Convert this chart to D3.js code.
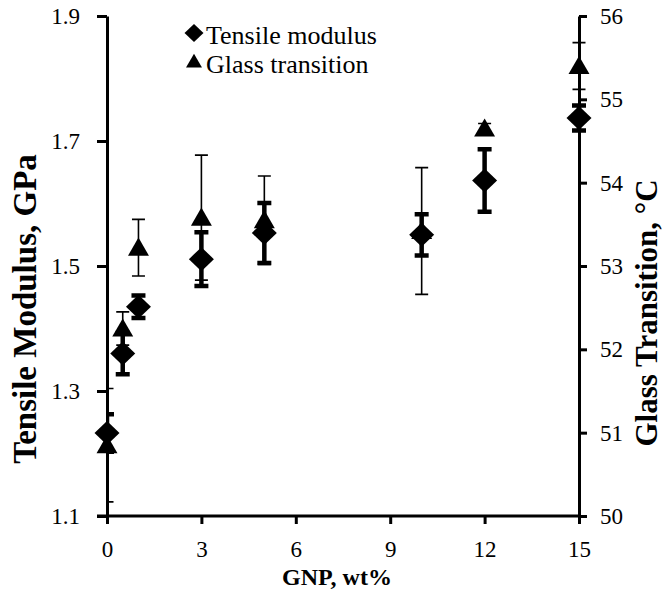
<!DOCTYPE html>
<html>
<head>
<meta charset="utf-8">
<script src="https://cdn.jsdelivr.net/npm/d3@7/dist/d3.min.js"></script>
<style>
  body { margin: 0; background: #fff; }
  svg { display: block; }
  .axis path, .axis line { stroke: #000; stroke-width: 3; }
</style>
</head>
<body>
<script>
// values
var gnp        = [0, 0.5, 1, 3, 5, 10, 12, 15];
var modulus    = [1.233, 1.36, 1.435, 1.511, 1.553, 1.55, 1.637, 1.737];
var modulusErr = [0.03, 0.033, 0.018, 0.043, 0.048, 0.033, 0.05, 0.02];
var tg         = [50.85, 52.25, 53.22, 53.58, 53.55, 53.42, 54.65, 55.4];
var tgErr      = [0.68, 0.2, 0.34, 0.75, 0.53, 0.76, 0.06, 0.28];
var xTicks = [0, 3, 6, 9, 12, 15];
var yTicks = [1.1, 1.3, 1.5, 1.7, 1.9];
var y2Ticks = [50, 51, 52, 53, 54, 55, 56];
var legendLabels = ["Tensile modulus", "Glass transition"];

var serif = "'Times New Roman', 'Liberation Serif', serif";
var margin = {top: 16, right: 87, bottom: 74, left: 107};
var W = 666, H = 590;
var width = W - margin.left - margin.right;
var height = H - margin.top - margin.bottom;

var svg = d3.select("body").append("svg")
    .attr("width", W)
    .attr("height", H);

var g = svg.append("g")
    .attr("transform", "translate(" + margin.left + "," + margin.top + ")");

var x = d3.scaleLinear().domain([0, 15]).range([0, width]);
var y = d3.scaleLinear().domain([1.1, 1.9]).range([height, 0]);
var y2 = d3.scaleLinear().domain([50, 56]).range([height, 0]);

g.append("clipPath").attr("id", "clip")
  .append("rect").attr("x", 0).attr("y", -10).attr("width", width + 20).attr("height", height + 20);

var pts = gnp.map(function(d, i) {
  return {x: d, m: modulus[i], me: modulusErr[i], t: tg[i], te: tgErr[i]};
});

// glass transition: thin error bars + triangles
var tri = d3.symbol().type(d3.symbolTriangle).size(190);
var tgG = g.append("g");
var capT = 6.5;
tgG.selectAll(".tbar").data(pts).enter().append("path")
    .attr("clip-path", "url(#clip)")
    .attr("fill", "none").attr("stroke", "#000").attr("stroke-width", 1.6)
    .attr("d", function(d) {
      var cx = x(d.x), a = y2(d.t + d.te), b = y2(d.t - d.te);
      return "M" + cx + "," + a + "V" + b +
        "M" + (cx - capT) + "," + a + "H" + (cx + capT) +
        "M" + (cx - capT) + "," + b + "H" + (cx + capT);
    });
tgG.selectAll(".tri").data(pts).enter().append("path")
    .attr("transform", function(d) { return "translate(" + x(d.x) + "," + (y2(d.t) + 2) + ")"; })
    .attr("d", tri)
    .attr("fill", "#000");

// tensile modulus: thick error bars + diamonds
var modG = g.append("g");
var capM = 7;
modG.selectAll(".mbar").data(pts).enter().append("path")
    .attr("clip-path", "url(#clip)")
    .attr("fill", "none").attr("stroke", "#000").attr("stroke-width", 4.5)
    .attr("d", function(d) {
      var cx = x(d.x), a = y(d.m + d.me), b = y(d.m - d.me);
      return "M" + cx + "," + a + "V" + b +
        "M" + (cx - capM) + "," + a + "H" + (cx + capM) +
        "M" + (cx - capM) + "," + b + "H" + (cx + capM);
    });
modG.selectAll(".dia").data(pts).enter().append("path")
    .attr("transform", function(d) { return "translate(" + x(d.x) + "," + y(d.m) + ")"; })
    .attr("d", "M0,-12L12.5,0L0,12L-12.5,0Z")
    .attr("fill", "#000");

// axes
g.append("g").attr("class", "axis")
    .attr("transform", "translate(0," + height + ")")
    .call(d3.axisBottom(x).tickValues(xTicks).tickSize(8).tickSizeOuter(0).tickPadding(16.5))
    .call(function(s) { s.select(".domain").attr("d", "M-10,0H" + width); });

g.append("g").attr("class", "axis")
    .call(d3.axisLeft(y).tickValues(yTicks).tickSize(10).tickSizeOuter(0).tickPadding(17)
      .tickFormat(d3.format(".1f")));

g.append("g").attr("class", "axis")
    .attr("transform", "translate(" + width + ",0)")
    .call(d3.axisRight(y2).tickValues(y2Ticks).tickSize(8).tickSizeOuter(0).tickPadding(13)
      .tickFormat(d3.format("d")));

g.selectAll(".axis").attr("font-family", serif).attr("font-size", 23);
g.selectAll(".axis text").style("font-family", serif).style("font-size", "23px").attr("fill", "#000");

// axis titles
svg.append("text")
    .attr("x", margin.left + width / 2 - 6).attr("y", 585)
    .attr("text-anchor", "middle")
    .style("font-family", serif)
    .style("font-size", "24px").style("font-weight", "bold")
    .text("GNP, wt%");

svg.append("text")
    .attr("transform", "translate(36,309) rotate(-90)")
    .attr("text-anchor", "middle")
    .style("font-family", serif)
    .style("font-size", "33px").style("font-weight", "bold")
    .text("Tensile Modulus, GPa");

svg.append("text")
    .attr("transform", "translate(657,313) rotate(-90)")
    .attr("text-anchor", "middle")
    .style("font-family", serif)
    .style("font-size", "31px").style("font-weight", "bold")
    .text("Glass Transition, °C");

// legend
var leg = svg.append("g").attr("transform", "translate(194,0)");
leg.append("path").attr("d", "M0,24L9.5,33L0,42L-9.5,33Z").attr("fill", "#000");
leg.append("path").attr("transform", "translate(0,63)").attr("d", d3.symbol().type(d3.symbolTriangle).size(110)).attr("fill", "#000");
leg.selectAll(".lt").data(legendLabels).enter().append("text")
    .attr("x", 12).attr("y", function(d, i) { return 44 + i * 29; })
    .style("font-family", serif)
    .style("font-size", "26px")
    .text(function(d) { return d; });
</script>
</body>
</html>
